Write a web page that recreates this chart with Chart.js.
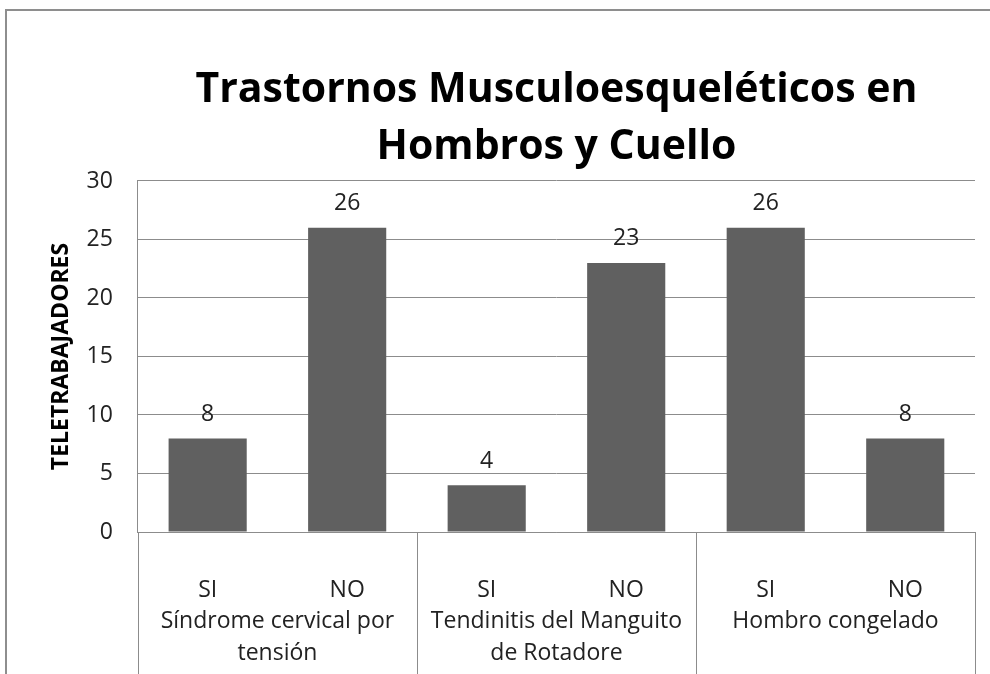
<!DOCTYPE html>
<html>
<head>
<meta charset="utf-8">
<script src="https://cdn.jsdelivr.net/npm/chart.js@4/dist/chart.umd.min.js"></script>
<style>
  html, body { margin: 0; padding: 0; background: #fff; }
  #wrap { position: relative; width: 990px; height: 674px; overflow: hidden; }
  #wrap canvas { position: absolute; left: 0; top: 0; }
  #frame { position: absolute; left: 5px; top: 9px; width: 1100px; height: 800px;
           border-left: 2px solid #8e8e8e; border-top: 2px solid #8e8e8e; pointer-events: none; }
</style>
</head>
<body>
<div id="wrap">
  <canvas id="chart" width="990" height="674"></canvas>
  <div id="frame"></div>
</div>
<script>
const chartTitle = ["Trastornos Musculoesqueléticos en", "Hombros y Cuello"];
const yTitle = "TELETRABAJADORES";
const groups = [["Síndrome cervical por", "tensión"], ["Tendinitis del Manguito", "de Rotadore"], "Hombro congelado"];
const answers = ["SI", "NO"];
const values = [8, 26, 4, 23, 26, 8];
const yMin = 0, yMax = 30, yStep = 5;

const labels = groups.flatMap(() => answers);
const textColor = "#222";
const lineColor = "#8c8c8c";
const font = "'Open Sans', sans-serif";

// numbers on top of the bars
const valueLabels = {
    id: "valueLabels",
    afterDatasetsDraw(chart) {
        const ctx = chart.ctx;
        ctx.save();
        ctx.font = `23px ${font}`;
        ctx.fillStyle = textColor;
        ctx.textAlign = "center";
        ctx.textBaseline = "middle";
        chart.getDatasetMeta(0).data.forEach((bar, i) => {
            ctx.fillText(values[i], bar.x, bar.y - 24);
        });
        ctx.restore();
    },
};

// vertical separators between the category groups, under the axis
const groupLines = {
    id: "groupLines",
    afterDraw(chart) {
        const x = chart.scales.x;
        const ctx = chart.ctx;
        const per = answers.length;
        ctx.save();
        ctx.strokeStyle = lineColor;
        ctx.lineWidth = 1;
        for (let k = 0; k <= groups.length; k++) {
            let px;
            if (k === 0) px = x.left;
            else if (k === groups.length) px = x.right;
            else px = (x.getPixelForValue(k * per - 1) + x.getPixelForValue(k * per)) / 2;
            px = Math.round(px) + 0.5;
            ctx.beginPath();
            ctx.moveTo(px, chart.chartArea.bottom);
            ctx.lineTo(px, chart.height);
            ctx.stroke();
        }
        ctx.restore();
    },
};

const ctx = document.getElementById("chart").getContext("2d");
new Chart(ctx, {
    type: "bar",
    data: {
        labels: labels,
        datasets: [
            {
                data: values,
                backgroundColor: "#606060",
                borderWidth: 0,
                barPercentage: 0.56,
                categoryPercentage: 1,
            },
        ],
    },
    options: {
        responsive: false,
        devicePixelRatio: 1,
        animation: false,
        layout: { padding: { left: 48, right: 15, bottom: 4, top: 0 } },
        plugins: {
            legend: { display: false },
            tooltip: { enabled: false },
            title: {
                display: true,
                text: chartTitle,
                fullSize: false,
                color: "#000",
                font: { family: font, size: 41, weight: "bold", lineHeight: 1.39 },
                padding: { top: 62, bottom: 5 },
            },
        },
        scales: {
            y: {
                min: yMin,
                max: yMax,
                ticks: { stepSize: yStep, color: textColor, font: { family: font, size: 23 }, padding: 25 },
                grid: { color: lineColor, drawTicks: false },
                border: { display: true, color: lineColor },
                title: {
                    display: true,
                    text: yTitle,
                    color: "#000",
                    font: { family: font, size: 23, weight: "bold", lineHeight: 1.2 },
                    padding: { top: 0, bottom: -14 },
                },
            },
            x: {
                weight: 0,
                grid: { display: true, drawOnChartArea: false, drawTicks: true, tickLength: 52, color: "transparent" },
                border: { display: true, color: lineColor },
                ticks: { color: textColor, font: { family: font, size: 23 }, padding: -7, maxRotation: 0, autoSkip: false },
            },
            x2: {
                type: "category",
                position: "bottom",
                weight: 1,
                labels: groups,
                offset: true,
                grid: { display: false },
                border: { display: false },
                ticks: { color: textColor, font: { family: font, size: 23, lineHeight: 1.4 }, padding: 0, maxRotation: 0, autoSkip: false },
            },
        },
    },
    plugins: [valueLabels, groupLines],
});
</script>
</body>
</html>
